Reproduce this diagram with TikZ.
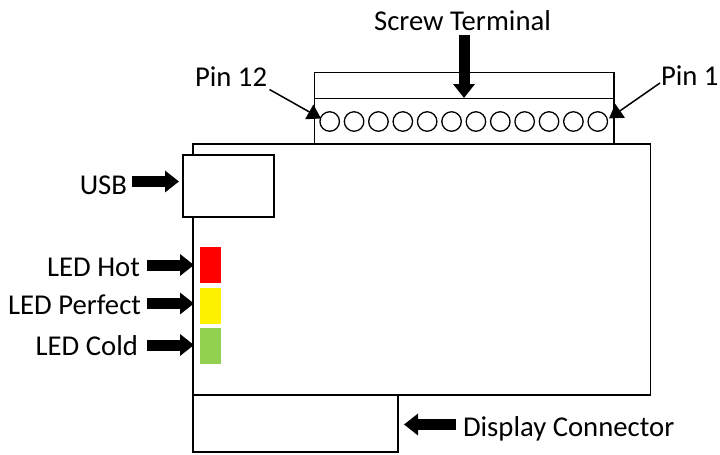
\documentclass[tikz,border=0pt]{standalone}
\usepackage{fontspec}
\setmainfont{Carlito}
\usetikzlibrary{arrows.meta}
\definecolor{ledgreen}{HTML}{92D050}
\tikzset{
  x=1pt,y=-1pt,
  box/.style={draw=black,line width=1.5pt,fill=white,rectangle,inner sep=0pt,outer sep=0pt,anchor=north west},
  led/.style={rectangle,inner sep=0pt,outer sep=0pt,anchor=north west,minimum width=21pt,minimum height=36pt},
  pinhole/.style={draw=black,line width=1.3pt,circle,fill=white,inner sep=0pt,outer sep=0pt,minimum size=19.5pt},
  lbl/.style={inner sep=0pt,outer sep=0pt,font=\fontsize{28.7}{32}\selectfont,text=black},
  block/.style={draw=black,line width=11pt,-{Triangle[length=14pt,width=21pt]}},
  thin arrow/.style={draw=black,line width=1.5pt,-{Triangle[length=13.5pt,width=16.5pt]}}
}
\begin{document}
\begin{tikzpicture}
\useasboundingbox (0,0) rectangle (720,455);
\node[box,minimum width=457.5pt,minimum height=251pt] (board) at (193,144) {};
\node[box,minimum width=299.5pt,minimum height=71.5pt] (terminal) at (314.5,72.5) {};
\coordinate (divL) at (314.5,98.5);
\coordinate (divR) at (614,98.5);
\draw[line width=1.5pt] (divL) -- (divR);
\node[box,minimum width=91pt,minimum height=62pt] (usb) at (183,155) {};
\node[box,minimum width=205pt,minimum height=57pt] (display) at (193,395) {};
\node[led,fill=red] (hot) at (200,247) {};
\node[led,fill=yellow] (perfect) at (200,288) {};
\node[led,fill=ledgreen] (cold) at (200,328) {};
\foreach \n [evaluate=\n as \xx using 329.7+(12-\n)*24.37] in {12,11,...,1}
  \node[pinhole] (p\n) at (\xx,121.5) {};
\node[lbl,anchor=base] (tscrew) at (462.5,30) {Screw Terminal};
\node[lbl,anchor=base west] (tp12) at (195,86.5) {Pin 12};
\node[lbl,anchor=base west] (tp1) at (661,85.5) {Pin 1};
\node[lbl,anchor=base east] (tusb) at (127,194.5) {USB};
\node[lbl,anchor=base east] (thot) at (140,276.5) {LED Hot};
\node[lbl,anchor=base east] (tperfect) at (141,314.5) {LED Perfect};
\node[lbl,anchor=base east] (tcold) at (138,355.5) {LED Cold};
\node[lbl,anchor=base west] (tdisp) at (463,436) {Display Connector};
\coordinate (a1s) at (464,35);   \coordinate (a1e) at (464,98);
\coordinate (a2s) at (132,181.5);\coordinate (a2e) at (179,181.5);
\coordinate (a3s) at (147,265);  \coordinate (a3e) at (194,265);
\coordinate (a4s) at (147,303.5);\coordinate (a4e) at (194,303.5);
\coordinate (a5s) at (147,345);  \coordinate (a5e) at (194,345);
\coordinate (a6s) at (456,424.5);\coordinate (a6e) at (404,424.5);
\coordinate (a7s) at (269.5,89.5);\coordinate (a7e) at (321,118.5);
\coordinate (a8s) at (660,83);   \coordinate (a8e) at (609,118.5);
\draw[block] (a1s) -- (a1e);
\draw[block] (a2s) -- (a2e);
\draw[block] (a3s) -- (a3e);
\draw[block] (a4s) -- (a4e);
\draw[block] (a5s) -- (a5e);
\draw[block] (a6s) -- (a6e);
\draw[thin arrow] (a7s) -- (a7e);
\draw[thin arrow] (a8s) -- (a8e);
\end{tikzpicture}
\end{document}
